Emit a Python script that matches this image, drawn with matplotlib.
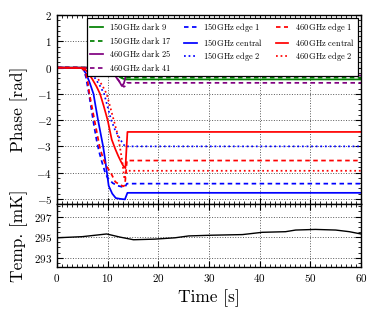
import matplotlib
matplotlib.use("Agg")
import matplotlib.pyplot as plt
from matplotlib.ticker import MultipleLocator

plt.rcParams['font.family'] = 'cmr10'
plt.rcParams['mathtext.fontset'] = 'cm'
plt.rcParams['axes.formatter.use_mathtext'] = True

# ---- data ----
t_g9 = [0, 8, 9, 10, 11, 12, 12.5, 13, 13.5, 14, 60]
y_g9 = [0, 0, -0.02, -0.07, -0.17, -0.3, -0.37, -0.42, -0.45, -0.45, -0.45]
t_g17 = [0, 8, 9, 10, 11, 12, 12.5, 13, 13.5, 14, 60]
y_g17 = [0, 0, -0.02, -0.06, -0.15, -0.28, -0.35, -0.4, -0.4, -0.38, -0.38]
t_p25 = [0, 8.5, 9.5, 10.5, 11.5, 12.2, 12.8, 13.2, 13.6, 14, 60]
y_p25 = [0, 0, -0.04, -0.14, -0.32, -0.5, -0.7, -0.6, -0.3, -0.3, -0.3]
t_p41 = [0, 8.5, 9.5, 10.5, 11.5, 12.2, 12.8, 13.2, 13.5, 13.8, 60]
y_p41 = [0, 0, -0.04, -0.14, -0.32, -0.5, -0.66, -0.73, -0.7, -0.58, -0.58]

t_b_e1 = [0, 4.5, 5.2, 5.7, 6.3, 6.8, 7.3, 7.8, 8.3, 8.8, 9.5, 10, 11, 12, 13, 13.4, 13.8, 60]
y_b_e1 = [0, 0, -0.05, -0.35, -1.0, -1.6, -2.2, -2.75, -3.2, -3.55, -4.0, -4.2, -4.4, -4.5, -4.55, -4.55, -4.42, -4.42]
t_b_c = [0, 5, 5.8, 6.5, 7.2, 7.6, 8.1, 8.6, 9.1, 9.5, 9.85, 10.2, 10.9, 11.6, 12.5, 13.4, 13.9, 60]
y_b_c = [0, -0.02, -0.25, -0.6, -1.0, -1.45, -2.0, -2.5, -3.0, -3.5, -4.0, -4.5, -4.8, -4.97, -5.0, -5.02, -4.77, -4.77]
t_b_e2 = [0, 5.5, 6.5, 7.5, 8.5, 9.3, 10, 10.7, 11.4, 12.1, 12.8, 13.4, 60]
y_b_e2 = [0, -0.02, -0.15, -0.4, -0.7, -1.0, -1.5, -2.0, -2.35, -2.6, -2.83, -3.0, -3.0]

t_r_e1 = [0, 4.8, 5.6, 6.0, 6.4, 6.9, 7.4, 7.9, 8.4, 9, 9.6, 10.6, 11.5, 12.3, 13.1, 13.4, 13.8, 60]
y_r_e1 = [0, 0, -0.15, -0.45, -1.0, -1.5, -2.0, -2.5, -3.0, -3.4, -3.7, -4.0, -4.35, -4.45, -4.52, -4.48, -3.54, -3.54]
t_r_c = [0, 5.3, 6.2, 7.0, 7.8, 8.5, 9.2, 10.0, 10.8, 11.5, 12.1, 12.6, 13.1, 13.5, 13.9, 60]
y_r_c = [0, -0.02, -0.2, -0.45, -0.72, -1.0, -1.45, -2.0, -2.74, -3.1, -3.37, -3.57, -3.75, -3.83, -2.45, -2.45]
t_r_e2 = [0, 6, 7, 8, 9, 9.8, 10.5, 11.2, 11.9, 12.4, 12.9, 13.3, 13.8, 60]
y_r_e2 = [0, -0.02, -0.15, -0.4, -0.7, -1.0, -1.5, -2.0, -2.5, -3.0, -3.6, -4.25, -3.93, -3.93]

t_temp = [0, 5, 9.8, 12.5, 15.1, 19.3, 23.3, 26, 30.6, 36.6, 40.5, 45.1, 47.1, 51, 55, 57.7, 60]
y_temp = [294.94, 295.05, 295.31, 295.0, 294.75, 294.81, 294.94, 295.12, 295.19, 295.25, 295.47, 295.53, 295.69, 295.75, 295.69, 295.53, 295.31]

fig = plt.figure(figsize=(3.8, 3.15), dpi=100)
gs = fig.add_gridspec(2, 1, height_ratios=[3, 1], hspace=0,
                      left=0.15, right=0.95, top=0.952, bottom=0.152)
ax = fig.add_subplot(gs[0])
ax2 = fig.add_subplot(gs[1], sharex=ax)

lw = 1.25
dash = (0, (2.6, 2.0))
green = '#008000'
purple = '#800080'
ax.plot(t_g9, y_g9, color=green, ls='-', lw=lw, label=r'$150\,$GHz dark 9')
ax.plot(t_g17, y_g17, color=green, ls=dash, lw=lw, label=r'$150\,$GHz dark 17')
ax.plot(t_p25, y_p25, color=purple, ls='-', lw=lw, label=r'$460\,$GHz dark 25')
ax.plot(t_p41, y_p41, color=purple, ls=dash, lw=lw, label=r'$460\,$GHz dark 41')
ax.plot(t_b_e1, y_b_e1, color='b', ls=dash, lw=lw, label=r'$150\,$GHz edge 1')
ax.plot(t_b_c, y_b_c, color='b', ls='-', lw=lw, label=r'$150\,$GHz central')
ax.plot(t_b_e2, y_b_e2, color='b', ls=':', lw=lw, label=r'$150\,$GHz edge 2')
ax.plot(t_r_e1, y_r_e1, color='r', ls=dash, lw=lw, label=r'$460\,$GHz edge 1')
ax.plot(t_r_c, y_r_c, color='r', ls='-', lw=lw, label=r'$460\,$GHz central')
ax.plot(t_r_e2, y_r_e2, color='r', ls=':', lw=lw, label=r'$460\,$GHz edge 2')

ax2.plot(t_temp, y_temp, color='k', lw=1.0)

ax.set_xlim(0, 60)
ax.set_ylim(-5.2, 2)
ax2.set_ylim(292.1, 298.2)
ax.set_yticks([-5, -4, -3, -2, -1, 0, 1, 2])
ax2.set_yticks([293, 295, 297])
ax2.set_xticks([0, 10, 20, 30, 40, 50, 60])
ax.yaxis.set_minor_locator(MultipleLocator(0.2))
ax.xaxis.set_minor_locator(MultipleLocator(1))
ax2.yaxis.set_minor_locator(MultipleLocator(0.5))
plt.setp(ax.get_xticklabels(), visible=False)

for a in (ax, ax2):
    a.tick_params(which='both', direction='in', top=True, right=True, labelsize=8)
    a.tick_params(which='major', length=4, width=0.8)
    a.tick_params(which='minor', length=2, width=0.6)
    a.grid(True, which='major', ls=':', color='0.35', lw=0.7)
    for s in a.spines.values():
        s.set_linewidth(1.0)

ax.set_ylabel('Phase [rad]', fontsize=12.5)
ax2.set_ylabel('Temp. [mK]', fontsize=12.5)
ax2.set_xlabel('Time [s]', fontsize=12.5)
fig.align_ylabels([ax, ax2])

leg = ax.legend(loc='upper right', ncol=3, fontsize=6, handlelength=1.5,
                columnspacing=1.5, fancybox=False, edgecolor='k', framealpha=1,
                borderaxespad=0.35, labelspacing=0.3, handletextpad=0.8)
leg.get_frame().set_linewidth(0.9)

fig.savefig('out.png', dpi=100)
